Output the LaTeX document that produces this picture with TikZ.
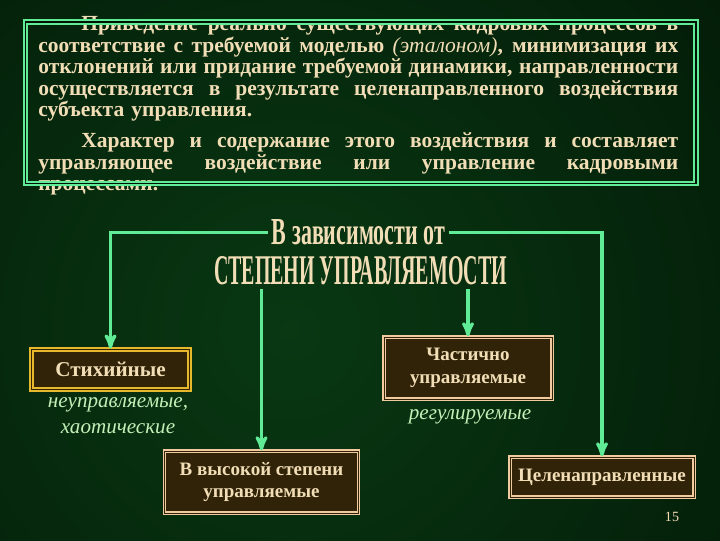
\documentclass[tikz,border=0pt]{standalone}
\usepackage{fontspec}
\setmainfont{Liberation Serif}
\usetikzlibrary{arrows}
\newlength\unitpx
\setlength\unitpx{0.025cm}
\newcommand\fullline[1]{\leavevmode\hbox to 640\unitpx{\spaceskip=0.25em plus 1fil\relax #1}}
\definecolor{bgdark}{RGB}{1,18,4}
\definecolor{bglight}{RGB}{9,56,19}
\definecolor{mint}{RGB}{96,236,150}
\definecolor{sand}{RGB}{242,222,182}
\definecolor{gold}{RGB}{232,184,44}
\definecolor{peach}{RGB}{242,202,160}
\definecolor{boxfill}{RGB}{48,35,8}
\definecolor{notegreen}{RGB}{196,240,184}
\tikzset{x=0.025cm, y=-0.025cm,
    frame/.style={
        draw=mint,
        double=bgdark,
        line width=1.8\unitpx,
        double distance=1.6\unitpx},
    intro/.style={
        text=sand,
        text width=640\unitpx,
        inner sep=0pt,
        align=left,
        font=\fontsize{15.3}{15.4}\selectfont\bfseries},
    kind/.style={
        draw=peach,
        double=boxfill,
        fill=boxfill,
        line width=1.4\unitpx,
        double distance=1\unitpx,
        text=sand,
        inner sep=0pt,
        align=center,
        font=\fontsize{13.5}{16}\selectfont\bfseries},
    wild/.style={
        kind,
        draw=gold,
        line width=2\unitpx,
        font=\fontsize{15}{18}\selectfont\bfseries},
    head/.style={
        text=sand,
        inner sep=4\unitpx,
        font=\bfseries},
    note/.style={
        text=notegreen,
        align=center,
        font=\fontsize{15}{15}\selectfont\itshape},
    link/.style={
        draw=mint,
        line width=3.2\unitpx,
        ->,>=stealth'}}
\begin{document}
\begin{tikzpicture}
    \useasboundingbox (0,0) rectangle (720,540);
    \fill[bgdark] (0,0) rectangle (720,540);
    \shade[inner color=bglight, outer color=bgdark] (290,330) circle [radius=760];

    % text block and its frame
    \node[intro, anchor=north west] (text) at (38,16) {%
        \fullline{\hspace*{43\unitpx}Приведение реально существующих кадровых процессов в}\\
        \fullline{соответствие с требуемой моделью {\mdseries\itshape(эталоном)}, минимизация их}\\
        \fullline{отклонений или придание требуемой динамики, направленности}\\
        \fullline{осуществляется в результате целенаправленного воздействия}\\
        субъекта управления.\\[9\unitpx]
        \fullline{\hspace*{43\unitpx}Характер и содержание этого воздействия и составляет}\\
        \fullline{управляющее воздействие или управление кадровыми}\\
        процессами.};
    \draw[frame] (25.5,22) rectangle (696,183.5);

    % heading
    \node[head] (head1) at (358.5,232.5) {\resizebox{173\unitpx}{25\unitpx}{В зависимости от}};
    \node[head] (head2) at (360.5,271) {\resizebox{293\unitpx}{28\unitpx}{СТЕПЕНИ УПРАВЛЯЕМОСТИ}};

    % kinds
    \node[wild, minimum width=158\unitpx, minimum height=40\unitpx] (wild) at (110.5,369.5) {Стихийные};
    \node[kind, minimum width=168\unitpx, minimum height=62\unitpx] (part) at (468,368) {Частично\\управляемые};
    \node[kind, minimum width=194\unitpx, minimum height=62\unitpx] (high) at (261.5,482) {В высокой степени\\управляемые};
    \node[kind, minimum width=184\unitpx, minimum height=40\unitpx] (aim) at (602,477) {Целенаправленные};

    \node[note] (wildnote) at (118,416) {неуправляемые,\\[5\unitpx] хаотические};
    \node[note] (partnote) at (470,417) {регулируемые};
    \node[text=sand, font=\fontsize{10}{12}\selectfont] (pagenum) at (672,517) {15};

    \draw[link] (head1.west) -| (wild.north);
    \draw[link] (head1.east) -| (aim.north);
    \draw[link] (head2.south -| high.north) -- (high.north);
    \draw[link] (head2.south -| part.north) -- (part.north);
\end{tikzpicture}
\end{document}
